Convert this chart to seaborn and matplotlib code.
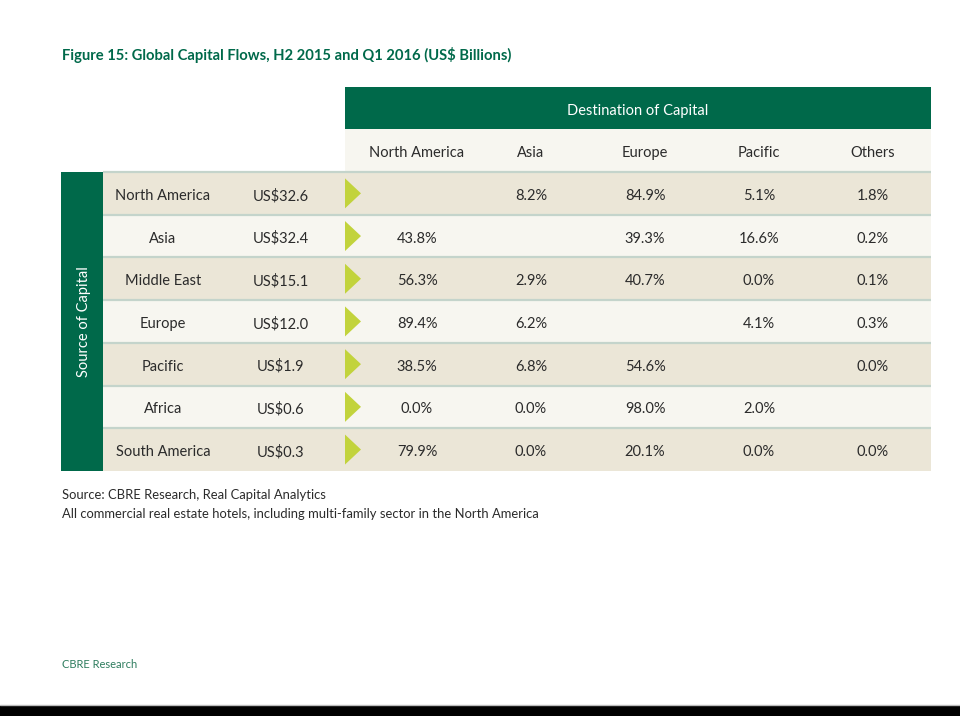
import matplotlib
matplotlib.use("Agg")
import matplotlib.pyplot as plt
import seaborn as sns
import numpy as np

# ---- data ----
title = "Figure 15: Global Capital Flows, H2 2015 and Q1 2016 (US$ Billions)"
dest_header = "Destination of Capital"
source_header = "Source of Capital"
destinations = ["North America", "Asia", "Europe", "Pacific", "Others"]
sources = ["North America", "Asia", "Middle East", "Europe", "Pacific", "Africa", "South America"]
totals = [32.6, 32.4, 15.1, 12.0, 1.9, 0.6, 0.3]
share_north_america = [None, 43.8, 56.3, 89.4, 38.5, 0.0, 79.9]
share_asia = [8.2, None, 2.9, 6.2, 6.8, 0.0, 0.0]
share_europe = [84.9, 39.3, 40.7, None, 54.6, 98.0, 20.1]
share_pacific = [5.1, 16.6, 0.0, 4.1, None, 2.0, 0.0]
share_others = [1.8, 0.2, 0.1, 0.3, 0.0, None, 0.0]
footnotes = ["Source: CBRE Research, Real Capital Analytics",
             "All commercial real estate hotels, including multi-family sector in the North America"]
footer = "CBRE Research"

shares = [share_north_america, share_asia, share_europe, share_pacific, share_others]

# ---- style ----
sns.set_theme(style="white")
plt.rcParams['font.family'] = ['Lato', 'DejaVu Sans']

GREEN = "#00694a"
BEIGE = "#ebe6d7"
CREAM = "#f7f6f0"
SEP = "#c4d4cb"
ARROW = "#c2d33c"
TXT = "#2b2b2b"

fig = plt.figure(figsize=(9.6, 7.2), dpi=100)
ax = fig.add_axes([0, 0, 1, 1])
ax.set_xlim(0, 960)
ax.set_ylim(720, 0)
ax.axis("off")

# layout (pixels)
tbl_left, tbl_right = 103, 931
dest_left = 345
col_start, col_w = 360, 114
row_top, row_h = 172, 42.7
hdr_top, hdr_mid = 87, 129
dy = 2.5  # text baseline nudge

n_rows = len(sources)
row_idx = np.arange(n_rows)
row_centers = row_top + row_h * (row_idx + 0.5)
col_centers = col_start + col_w * (np.arange(len(destinations)) + 0.5)

# title
ax.text(62, 55, title, fontsize=10.6, fontweight="bold", color=GREEN, va="center", ha="left")

# destination header band
ax.barh([(hdr_top + hdr_mid) / 2], [tbl_right - dest_left], left=dest_left,
        height=hdr_mid - hdr_top, color=GREEN, linewidth=0)
ax.text((dest_left + tbl_right) / 2, (hdr_top + hdr_mid) / 2 + dy, dest_header,
        color="white", fontsize=10.5, ha="center", va="center")
# column header row
ax.barh([(hdr_mid + row_top) / 2], [tbl_right - dest_left], left=dest_left,
        height=row_top - hdr_mid, color=CREAM, linewidth=0)
for j, name in enumerate(destinations):
    ax.text(col_centers[j], (hdr_mid + row_top) / 2 + dy, name, color=TXT,
            fontsize=10.5, ha="center", va="center")

# row backgrounds
row_colors = [BEIGE if i % 2 == 0 else CREAM for i in row_idx]
ax.barh(row_centers, tbl_right - tbl_left, left=tbl_left, height=row_h,
        color=row_colors, linewidth=0)
# separators
for i in row_idx:
    y = row_top + row_h * i
    ax.plot([tbl_left, tbl_right], [y, y], color=SEP, lw=1.6, solid_capstyle="butt")

# source green bar
ax.barh([row_top + row_h * n_rows / 2], [tbl_left - 61], left=61,
        height=row_h * n_rows, color=GREEN, linewidth=0)
ax.text(84, row_top + row_h * n_rows / 2, source_header, rotation=90,
        color="white", fontsize=10.5, ha="center", va="center")

# row labels, totals, arrows, values
for i in row_idx:
    yc = row_centers[i]
    ax.text(163, yc + dy, sources[i], color=TXT, fontsize=10.5, ha="center", va="center")
    ax.text(281, yc + dy, f"US${totals[i]:.1f}", color=TXT, fontsize=10.5, ha="center", va="center")
    ax.fill([345, 345, 361], [yc - 15, yc + 15, yc], color=ARROW, linewidth=0)
    for j in range(len(destinations)):
        v = shares[j][i]
        if v is not None:
            ax.text(col_centers[j], yc + dy, f"{v:.1f}%", color=TXT, fontsize=10.5,
                    ha="center", va="center")

# footnotes
ax.text(62, 495, footnotes[0], color=TXT, fontsize=9.4, ha="left", va="center")
ax.text(62, 514, footnotes[1], color=TXT, fontsize=9.4, ha="left", va="center")
ax.text(62, 665, footer, color="#2f7d5f", fontsize=8.0, ha="left", va="center")

# bottom black bar
ax.barh([711], [960], left=0, height=10, color="black", linewidth=0)
ax.plot([0, 960], [705, 705], color="#bbbbbb", lw=1)

fig.savefig("out.png", dpi=100)
